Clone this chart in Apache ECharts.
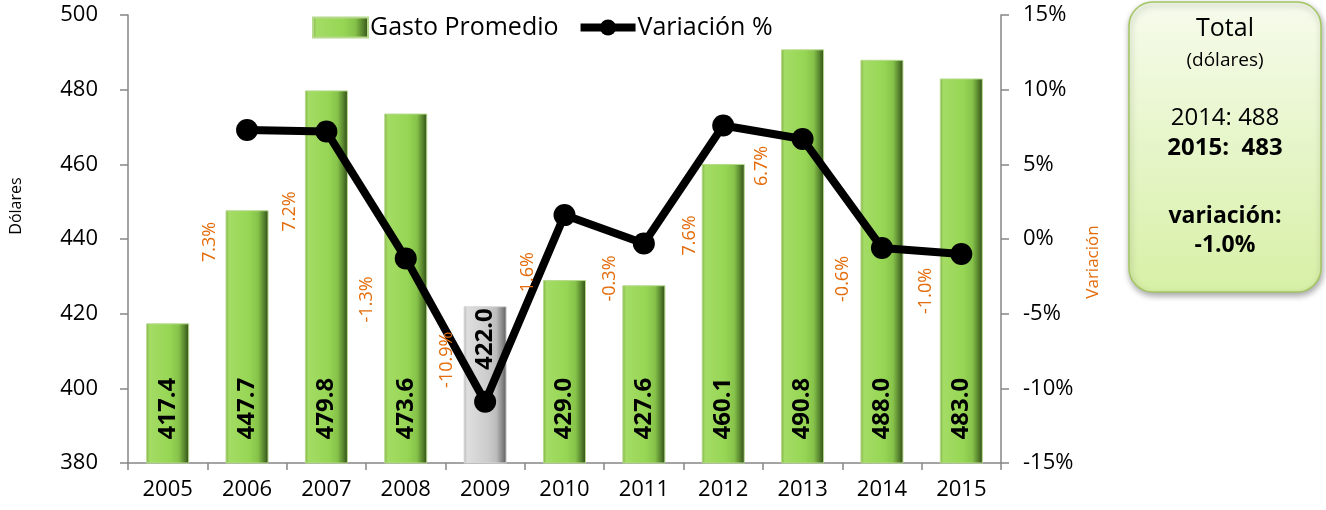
<!DOCTYPE html>
<html>
<head>
<meta charset="utf-8">
<script src="https://cdn.jsdelivr.net/npm/echarts@6/dist/echarts.min.js"></script>
<style>
  html, body { margin: 0; padding: 0; background: #fff; }
  #chart { width: 1326px; height: 510px; }
</style>
</head>
<body>
<div id="chart"></div>
<script>
// ---- data ----
const years = ['2005', '2006', '2007', '2008', '2009', '2010', '2011', '2012', '2013', '2014', '2015'];
const gastoPromedio = [417.4, 447.7, 479.8, 473.6, 422.0, 429.0, 427.6, 460.1, 490.8, 488.0, 483.0];
const variacionPct = [null, 7.3, 7.2, -1.3, -10.9, 1.6, -0.3, 7.6, 6.7, -0.6, -1.0];
const highlightYear = '2009';
const seriesNames = ['Gasto Promedio', 'Variación %'];
const axisNames = ['Dólares', 'Variación'];
const boxTitle = ['Total', '(dólares)'];
const boxVariationLabel = 'variación:';

// label nudges (screen px) for the orange % labels, relative to each point
const pctLabelShift = [null, [-37, 112], [-37, 80], [-39, 41], [-38, -42], [-37, 57], [-34, 35], [-33, 110], [-41, 27], [-39, 31], [-35, 37]];

const FONT = 'Open Sans';
const ORANGE = '#E46C0A';

const greenFill = new echarts.graphic.LinearGradient(0, 0, 1, 0, [
  { offset: 0, color: '#7fae45' },
  { offset: 0.08, color: '#a4dc65' },
  { offset: 0.55, color: '#96d654' },
  { offset: 0.76, color: '#86c24a' },
  { offset: 0.9, color: '#54802c' },
  { offset: 1, color: '#2f4a17' }
]);
const grayFill = new echarts.graphic.LinearGradient(0, 0, 1, 0, [
  { offset: 0, color: '#b0b0b0' },
  { offset: 0.08, color: '#dedede' },
  { offset: 0.55, color: '#cdcdcd' },
  { offset: 0.76, color: '#bcbcbc' },
  { offset: 0.9, color: '#868686' },
  { offset: 1, color: '#5a5a5a' }
]);

const barData = gastoPromedio.map((v, i) => {
  if (years[i] === highlightYear) {
    return {
      value: v,
      itemStyle: { color: grayFill, borderColor: '#d8d8d8' },
      label: { position: 'insideTop', align: 'right', distance: 2 }
    };
  }
  return v;
});

const n = gastoPromedio.length;
const lastVal = gastoPromedio[n - 1];
const prevVal = gastoPromedio[n - 2];
const lastPct = variacionPct[n - 1];

const chart = echarts.init(document.getElementById('chart'), null, { renderer: 'canvas' });

const boxX = 1129, boxY = 2, boxW = 192, boxH = 290, boxCX = boxX + boxW / 2;

const option = {
  backgroundColor: '#ffffff',
  textStyle: { fontFamily: FONT },
  animation: false,
  grid: { left: 128, right: 325, top: 15, bottom: 47, containLabel: false },
  legend: {
    left: 307,
    top: 10,
    itemWidth: 55,
    itemHeight: 20,
    itemGap: 18,
    textStyle: { fontFamily: FONT, fontSize: 25, color: '#000', padding: [0, 0, 0, -3] },
    data: [
      { name: seriesNames[0], icon: 'rect' },
      { name: seriesNames[1], lineStyle: { width: 8, color: '#000' }, itemStyle: { color: '#000' } }
    ]
  },
  xAxis: {
    type: 'category',
    data: years,
    boundaryGap: true,
    axisLine: { onZero: false, lineStyle: { color: '#868686', width: 1.5 } },
    axisTick: { show: true, length: 7, lineStyle: { color: '#868686', width: 1.5 } },
    axisLabel: { color: '#000', fontSize: 22, fontFamily: FONT, margin: 16 },
    splitLine: { show: false }
  },
  yAxis: [
    {
      type: 'value',
      min: 380, max: 500, interval: 20,
      name: axisNames[0],
      nameLocation: 'middle',
      nameGap: 104,
      nameTextStyle: { fontFamily: FONT, fontSize: 16, color: '#000', padding: [0, 0, 0, 66] },
      axisLine: { show: true, lineStyle: { color: '#868686', width: 1.5 } },
      axisTick: { show: true, length: 8, lineStyle: { color: '#868686', width: 1.5 } },
      axisLabel: { color: '#000', fontSize: 22, fontFamily: FONT, margin: 30 },
      splitLine: { show: false }
    },
    {
      type: 'value',
      min: -15, max: 15, interval: 5,
      position: 'right',
      name: axisNames[1],
      nameLocation: 'middle',
      nameGap: 80,
      nameTextStyle: { fontFamily: FONT, fontSize: 17, color: ORANGE, padding: [0, 46, 0, 0] },
      axisLine: { show: true, lineStyle: { color: '#868686', width: 1.5 } },
      axisTick: { show: true, length: 8, lineStyle: { color: '#868686', width: 1.5 } },
      axisLabel: { color: '#000', fontSize: 22, fontFamily: FONT, margin: 22, formatter: '{value}%' },
      splitLine: { show: false }
    }
  ],
  series: [
    {
      name: seriesNames[0],
      type: 'bar',
      yAxisIndex: 0,
      barWidth: 43,
      data: barData,
      itemStyle: { color: greenFill, borderColor: '#b6d98c', borderWidth: 1 },
      label: {
        show: true,
        position: 'insideBottom',
        distance: 24,
        rotate: 90,
        align: 'left',
        verticalAlign: 'middle',
        fontFamily: FONT,
        fontSize: 24,
        fontWeight: 'bold',
        color: '#000',
        formatter: p => p.value.toFixed(1)
      },
      z: 2
    },
    {
      name: seriesNames[1],
      type: 'line',
      yAxisIndex: 1,
      data: variacionPct,
      connectNulls: false,
      symbol: 'circle',
      symbolSize: 22,
      lineStyle: { color: '#000', width: 8 },
      itemStyle: { color: '#000' },
      label: {
        show: true,
        position: 'inside',
        rotate: 90,
        fontFamily: FONT,
        fontSize: 18,
        color: ORANGE,
        formatter: p => (p.value == null ? '' : p.value.toFixed(1) + '%')
      },
      labelLayout: function (params) {
        const s = pctLabelShift[params.dataIndex];
        if (!s) return {};
        return {
          x: params.rect.x + params.rect.width / 2 + s[0],
          y: params.rect.y + params.rect.height / 2 + s[1],
          align: 'center',
          verticalAlign: 'middle',
          rotate: 90
        };
      },
      z: 3
    }
  ],
  graphic: [
    {
      type: 'rect',
      shape: { x: boxX, y: boxY, width: boxW, height: boxH, r: 24 },
      style: {
        fill: new echarts.graphic.LinearGradient(0, 0, 0, 1, [
          { offset: 0, color: '#f6fbec' },
          { offset: 1, color: '#d7f0a6' }
        ]),
        stroke: '#a3c663',
        lineWidth: 1.5,
        shadowBlur: 6,
        shadowOffsetX: 1,
        shadowOffsetY: 3,
        shadowColor: 'rgba(0,0,0,0.35)'
      },
      z: 10
    },
    { type: 'text', x: boxCX, y: 29, z: 11, style: { text: boxTitle[0], font: '25px "' + FONT + '"', fill: '#000', align: 'center', verticalAlign: 'middle' } },
    { type: 'text', x: boxCX, y: 61, z: 11, style: { text: boxTitle[1], font: '19px "' + FONT + '"', fill: '#000', align: 'center', verticalAlign: 'middle' } },
    { type: 'text', x: boxCX, y: 118, z: 11, style: { text: years[n - 2] + ': ' + Math.round(prevVal), font: '24px "' + FONT + '"', fill: '#000', align: 'center', verticalAlign: 'middle' } },
    { type: 'text', x: boxCX, y: 148, z: 11, style: { text: years[n - 1] + ':  ' + Math.round(lastVal), font: 'bold 24px "' + FONT + '"', fill: '#000', align: 'center', verticalAlign: 'middle' } },
    { type: 'text', x: boxCX, y: 216, z: 11, style: { text: boxVariationLabel, font: 'bold 23px "' + FONT + '"', fill: '#000', align: 'center', verticalAlign: 'middle' } },
    { type: 'text', x: boxCX, y: 245, z: 11, style: { text: lastPct.toFixed(1) + '%', font: 'bold 23px "' + FONT + '"', fill: '#000', align: 'center', verticalAlign: 'middle' } }
  ]
};

chart.setOption(option);
</script>
</body>
</html>
